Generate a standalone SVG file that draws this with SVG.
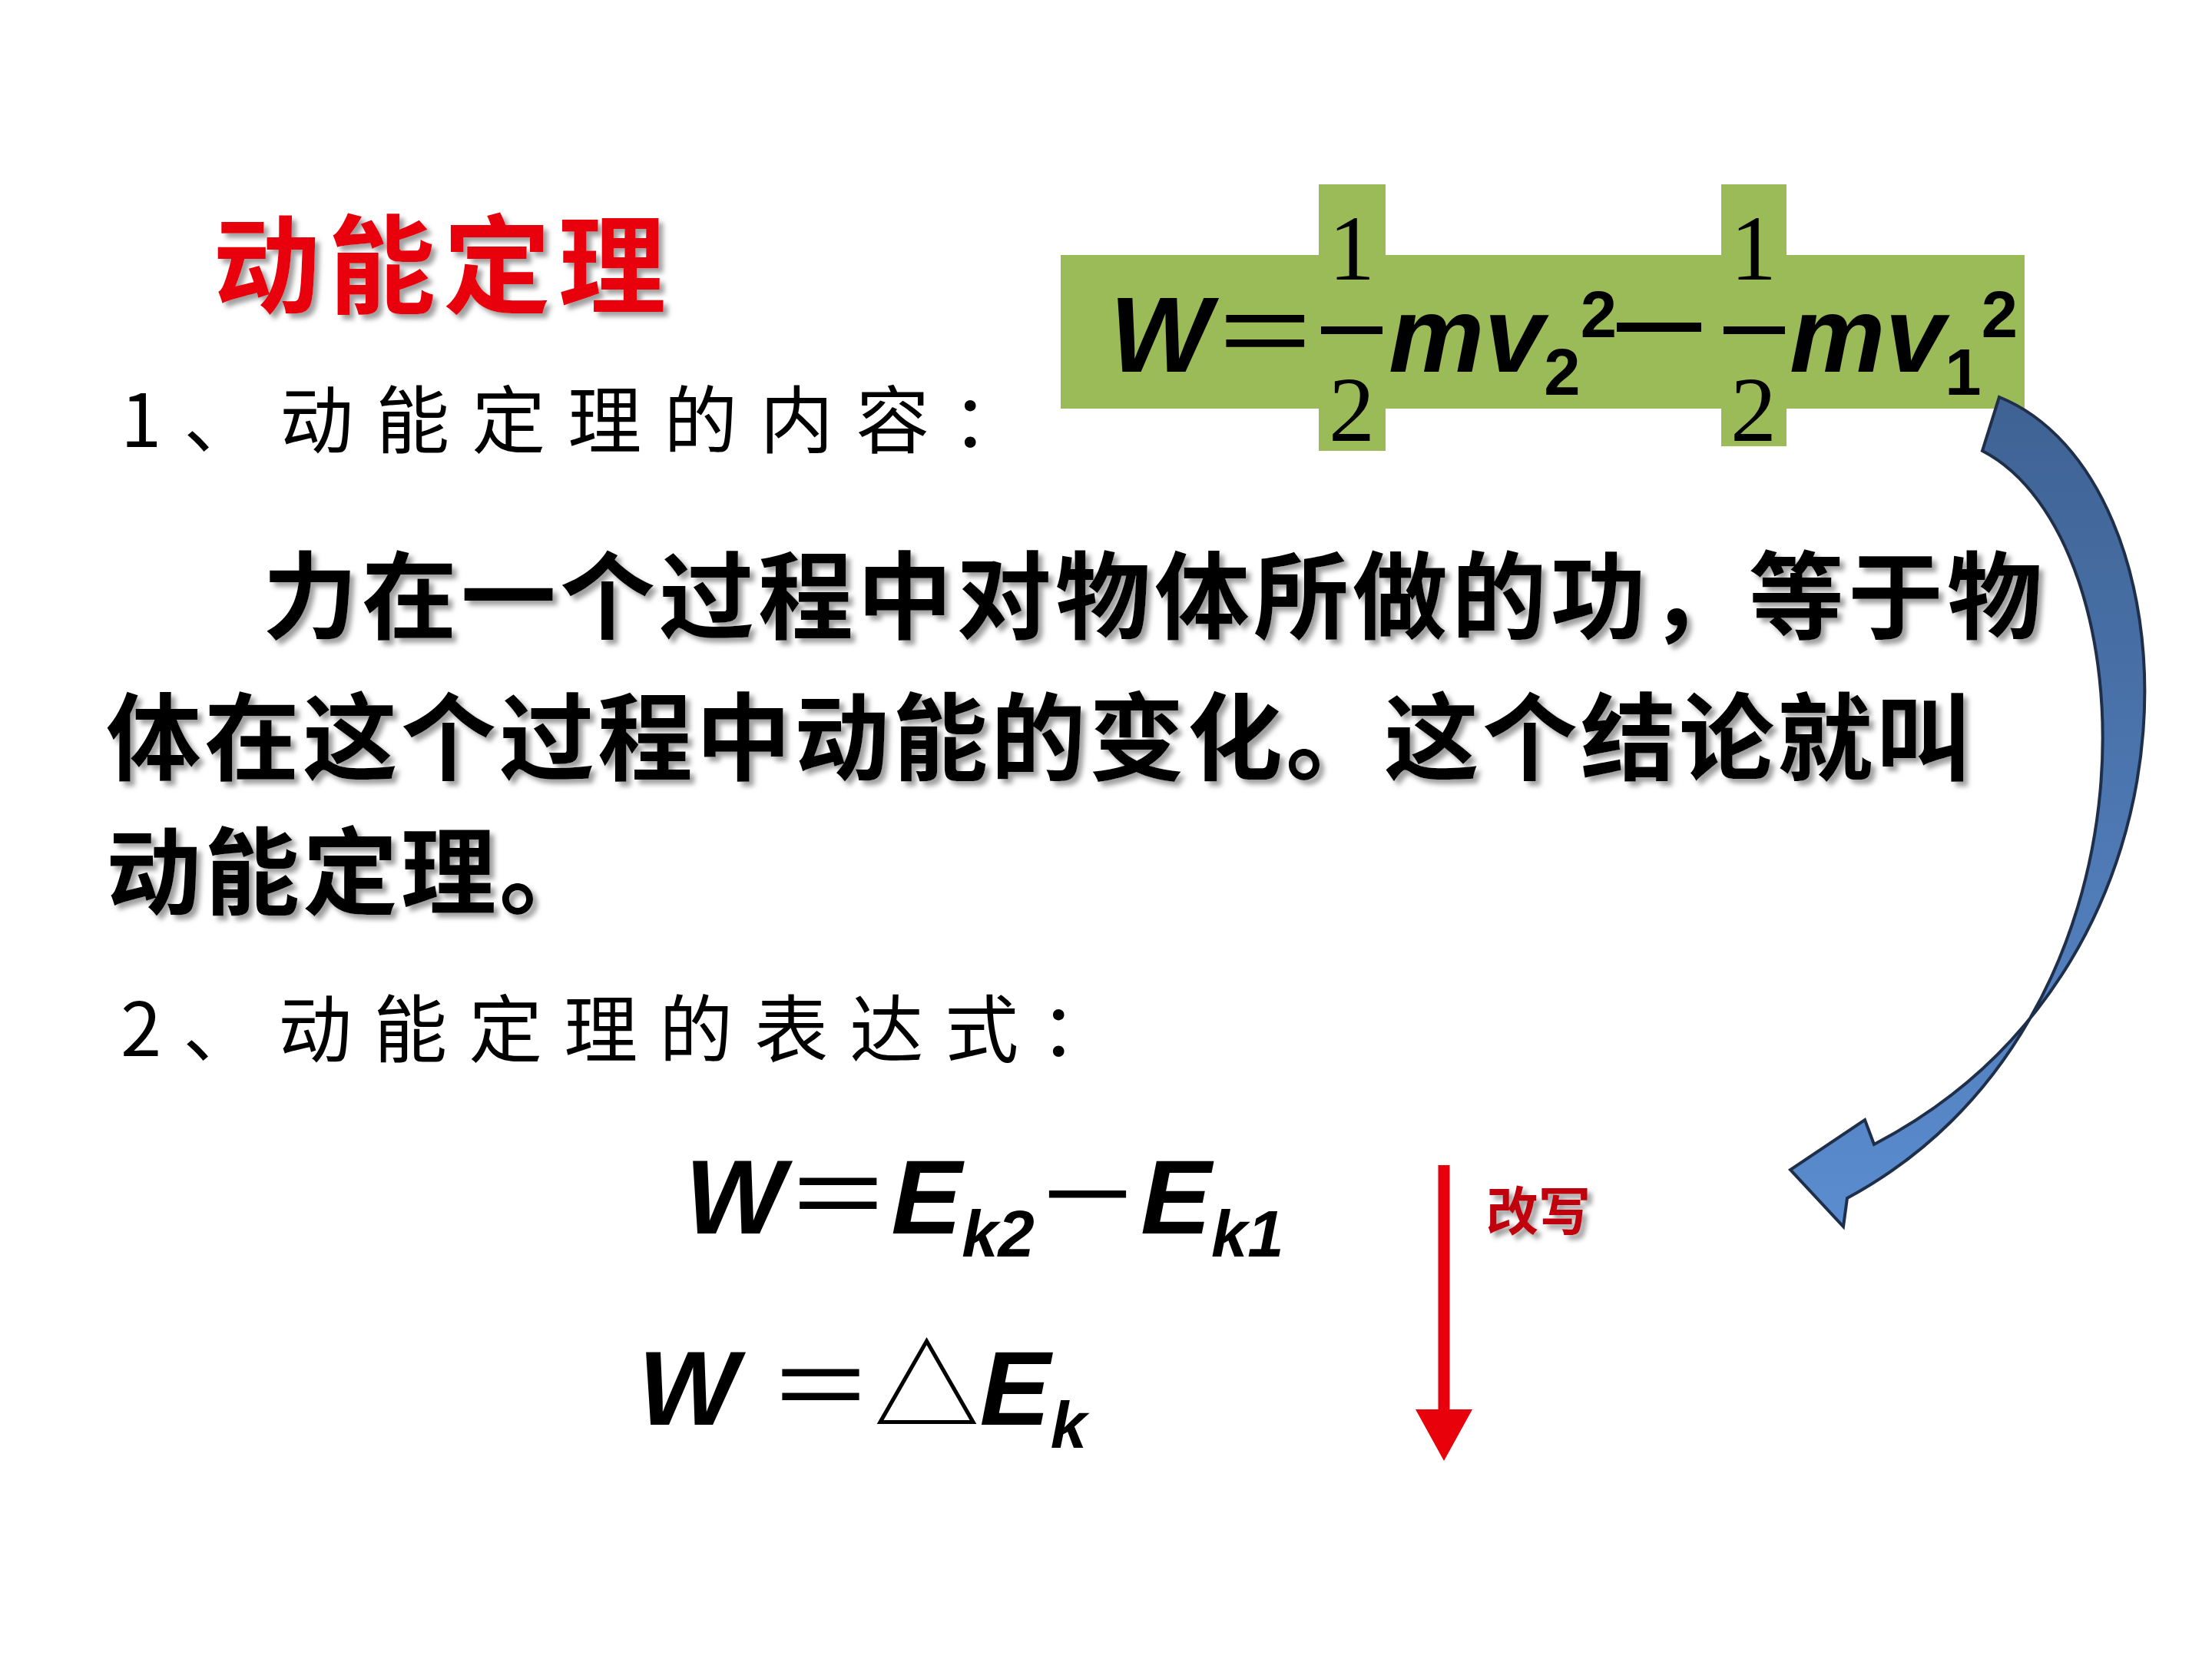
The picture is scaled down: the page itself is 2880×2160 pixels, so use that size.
<svg xmlns="http://www.w3.org/2000/svg" width="2880" height="2160" viewBox="0 0 2880 2160">
<defs>
<style>
.cn{font-family:"Noto Sans CJK SC",sans-serif;}
.m{font-family:"Liberation Sans",sans-serif;font-style:italic;font-weight:bold;fill:#000;}
.n{font-family:"Liberation Serif",serif;fill:#000;}
.w{font-family:"Noto Sans CJK SC",sans-serif;font-style:normal;font-weight:normal;}
</style>
<filter id="sh" x="-5%" y="-20%" width="110%" height="140%"><feDropShadow dx="6" dy="6" stdDeviation="3" flood-color="#888" flood-opacity="0.8"/></filter>
<linearGradient id="bl" x1="0" y1="0" x2="0" y2="1"><stop offset="0" stop-color="#3f6293"/><stop offset="1" stop-color="#5a8ccf"/></linearGradient>
</defs>
<rect width="2880" height="2160" fill="#fff"/>
<g id="title"><text class="cn" x="277" y="397" font-size="140" font-weight="bold" fill="#e8000b" letter-spacing="10" filter="url(#sh)">动能定理</text></g>
<g id="h1"><text class="cn" x="157" y="582" font-size="96" letter-spacing="29">1、动能定理的内容：</text></g>
<g id="formula1">
<rect x="1381" y="332" width="1255" height="200" fill="#9bbb59"/>
<rect x="1717" y="240" width="87" height="347" fill="#9bbb59"/>
<rect x="2241" y="240" width="85" height="341" fill="#9bbb59"/>
<text class="m" x="1445" y="484" font-size="140">W<tspan class="w">＝</tspan></text>
<text class="n" x="1760" y="364" font-size="120" text-anchor="middle">1</text>
<rect x="1720" y="425" width="80" height="10" fill="#000"/>
<text class="n" x="1760" y="574" font-size="120" text-anchor="middle">2</text>
<text class="m" x="1808" y="484" font-size="140">mv<tspan font-size="85" dy="30" font-style="normal">2</tspan><tspan font-size="85" dy="-75" font-style="normal">2</tspan></text>
<rect x="2105" y="420" width="110" height="12" fill="#000"/>
<text class="n" x="2283" y="364" font-size="120" text-anchor="middle">1</text>
<rect x="2244" y="425" width="80" height="10" fill="#000"/>
<text class="n" x="2283" y="574" font-size="120" text-anchor="middle">2</text>
<text class="m" x="2330" y="484" font-size="140">mv<tspan font-size="85" dy="30" font-style="normal">1</tspan><tspan font-size="85" dy="-75" font-style="normal">2</tspan></text>
</g>
<g id="para" class="cn" font-size="124" font-weight="bold" filter="url(#sh)">
<text x="342" y="822" letter-spacing="5">力在一个过程中对物体所做的功，等于物</text>
<text x="138" y="1006" letter-spacing="4">体在这个过程中动能的变化。这个结论就叫</text>
<text x="138" y="1181" letter-spacing="4">动能定理。</text>
</g>
<g id="h2"><text class="cn" x="157" y="1375" font-size="96" letter-spacing="28">2、动能定理的表达式：</text></g>
<g id="f2"><text class="m" x="892" y="1606" font-size="138">W<tspan class="w">＝</tspan>E<tspan font-size="85" dy="30">k2</tspan><tspan dy="-30" class="w">－</tspan>E<tspan font-size="85" dy="30">k1</tspan></text></g>
<g id="f3"><text class="m" x="831" y="1855" font-size="138">W <tspan class="w">＝△</tspan>E<tspan font-size="85" dy="30">k</tspan></text></g>
<g id="label"><text class="cn" x="1935" y="1602" font-size="68" font-weight="bold" fill="#c0000a" filter="url(#sh)">改写</text></g>
<g id="connectors">
<line x1="1880" y1="1517" x2="1880" y2="1840" stroke="#e8000b" stroke-width="15"/>
<path d="M1843,1835 L1917,1835 L1880,1902 Z" fill="#e8000b"/>
<path d="M2603,517 C2860,620 2900,1250 2440,1490 L2428,1458 L2331,1523 L2400,1597 L2405,1560 C2830,1330 2800,700 2581,587 Z" fill="url(#bl)" stroke="#1f2f4a" stroke-width="4"/>
</g>
</svg>
